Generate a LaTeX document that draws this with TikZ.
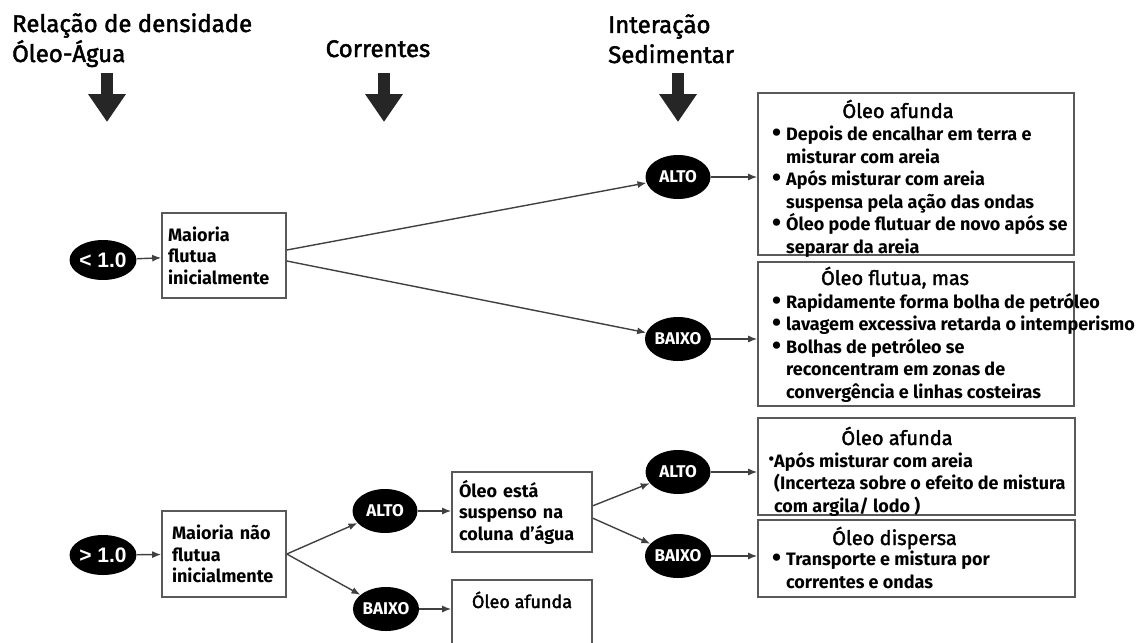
\documentclass[tikz,border=0pt]{standalone}
\usepackage{fontspec}
\setmainfont{Fira Sans}
\newfontfamily\arialfont{Liberation Sans}
\newfontfamily\cheiofont{Fira Sans}[FakeBold=2]
\usetikzlibrary{arrows.meta, shapes.geometric}

\newcommand{\marca}{\makebox[14pt][l]{\raisebox{-1pt}[0pt][0pt]{\fontsize{26}{26}\selectfont\textbullet}}}
\newcommand{\recuo}{\hspace*{14pt}}

\begin{document}
\begin{tikzpicture}[
    x=1pt, y=-1pt,
    >={Latex[length=9pt,width=7pt]},
    cabecalho/.style={font=\cheiofont\fontsize{24}{30}\selectfont, align=left, inner sep=0pt},
    setao/.style={line width=12pt, black!85, -{Triangle[width=36pt,length=28pt]}},
    bola/.style={ellipse, fill=black, text=white, minimum width=65pt,
                 minimum height=44pt, inner sep=0pt,
                 font=\fontsize{17}{17}\selectfont\bfseries},
    bolanum/.style={bola, minimum width=63pt, minimum height=40pt,
                    font=\arialfont\fontsize{21}{21}\selectfont\bfseries},
    caixa/.style={draw=black!65, line width=1.6pt, rectangle, inner sep=0pt},
    caixatexto/.style={caixa, align=left,
                       font=\fontsize{18}{21.5}\selectfont\bfseries},
    titulo/.style={font=\cheiofont\fontsize{20}{20}\selectfont, inner sep=0pt},
    lista/.style={align=left, inner sep=0pt,
                  font=\fontsize{18}{22.5}\selectfont\bfseries},
    liga/.style={->, line width=1.4pt, black!75},
]
\useasboundingbox (0,0) rectangle (1142,642);

% ============================================================
% Cabecalhos e setas grossas
% ============================================================
\node[cabecalho, anchor=base west] (densidade) at (12,62) {Relação de densidade\\Óleo-Água};
\node[cabecalho, anchor=base] (correntes) at (378,57) {Correntes};
\node[cabecalho, anchor=base west] (sedimento) at (608,63) {Interação\\Sedimentar};

\coordinate (topoA) at (107,73);  \coordinate (pontaA) at (107,122);
\coordinate (topoB) at (384,73);  \coordinate (pontaB) at (384,122);
\coordinate (topoC) at (678,73);  \coordinate (pontaC) at (678,122);
\draw[setao] (topoA) -- (pontaA);
\draw[setao] (topoB) -- (pontaB);
\draw[setao] (topoC) -- (pontaC);

% ============================================================
% Ramo < 1.0
% ============================================================
\node[bolanum] (menor) at (103,260) {< 1.0};
\node[caixatexto, text width=112pt, inner xsep=6pt, minimum height=85pt]
    (flutua) at (224,255.5) {Maioria\\flutua\\inicialmente};
\node[bola] (altoA) at (678,177) {ALTO};
\node[bola] (baixoA) at (678,339) {BAIXO};

\node[caixa, minimum width=316pt, minimum height=162pt] (caixaA) at (916,174) {};
\node[titulo, anchor=base] (tituloA) at (898,118) {Óleo afunda};
\node[lista, anchor=base west] (listaA) at (772,253) {%
    \marca Depois de encalhar em terra e\\
    \recuo misturar com areia\\
    \marca Após misturar com areia\\
    \recuo suspensa pela ação das ondas\\
    \marca Óleo pode flutuar de novo após se\\
    \recuo separar da areia};

\node[caixa, minimum width=316pt, minimum height=144pt] (caixaB) at (916,334) {};
\node[titulo, anchor=base] (tituloB) at (895,285) {Óleo flutua, mas};
\node[lista, anchor=base west] (listaB) at (772,398) {%
    \marca Rapidamente forma bolha de petróleo\\
    \marca lavagem excessiva retarda o intemperismo\\
    \marca Bolhas de petróleo se\\
    \recuo reconcentram em zonas de\\
    \recuo convergência e linhas costeiras};

\draw[liga] (menor) -- (flutua);
\draw[liga] (flutua.5) -- (altoA);
\draw[liga] (flutua.-5) -- (baixoA);
\draw[liga] (altoA) -- (altoA -| caixaA.west);
\draw[liga] (baixoA) -- (baixoA -| caixaB.west);

% ============================================================
% Ramo > 1.0
% ============================================================
\node[bolanum] (maior) at (103,555) {> 1.0};
\node[caixatexto, text width=104pt, inner xsep=10pt, minimum height=86pt]
    (naoflutua) at (224,554) {Maioria não\\flutua\\inicialmente};
\node[bola] (altoB) at (385,511) {ALTO};
\node[bola] (baixoB) at (386,609) {BAIXO};
\node[caixatexto, text width=126pt, inner xsep=7pt, minimum height=80pt]
    (suspenso) at (522,512) {Óleo está\\suspenso na\\coluna d'água};
\node[caixa, anchor=base, minimum width=140pt, text height=20pt,
      text depth=36pt, inner ysep=8pt, font=\cheiofont\fontsize{18}{18}\selectfont]
    (afundaS) at (522,608) {Óleo afunda};
\node[bola] (altoC) at (678,472) {ALTO};
\node[bola] (baixoC) at (678,556) {BAIXO};

\node[caixa, minimum width=317pt, minimum height=97pt] (caixaC) at (916.5,466.5) {};
\node[titulo, anchor=base] (tituloC) at (897,445) {Óleo afunda};
\node[lista, anchor=base west] (listaC) at (774,512) {%
    \llap{\raisebox{3pt}[0pt][0pt]{\fontsize{16}{16}\selectfont\textbullet}}Após misturar com areia\\
    (Incerteza sobre o efeito de mistura\\
    com argila/ lodo )};

\node[caixa, minimum width=317pt, minimum height=77pt] (caixaD) at (916.5,558.5) {};
\node[titulo, anchor=base] (tituloD) at (894.5,545) {Óleo dispersa};
\node[lista, anchor=base west] (listaD) at (772,588) {%
    \marca Transporte e mistura por\\
    \recuo correntes e ondas};

\draw[liga] (maior) -- (naoflutua);
\draw[liga] (naoflutua.east) -- (altoB);
\draw[liga] (naoflutua.east) -- (baixoB);
\draw[liga] (altoB) -- (altoB -| suspenso.west);
\draw[liga] (baixoB) -- (baixoB -| afundaS.west);
\draw[liga] (suspenso.5) -- (altoC);
\draw[liga] (suspenso.-5) -- (baixoC);
\draw[liga] (altoC) -- (altoC -| caixaC.west);
\draw[liga] (baixoC) -- (baixoC -| caixaD.west);

\end{tikzpicture}
\end{document}
